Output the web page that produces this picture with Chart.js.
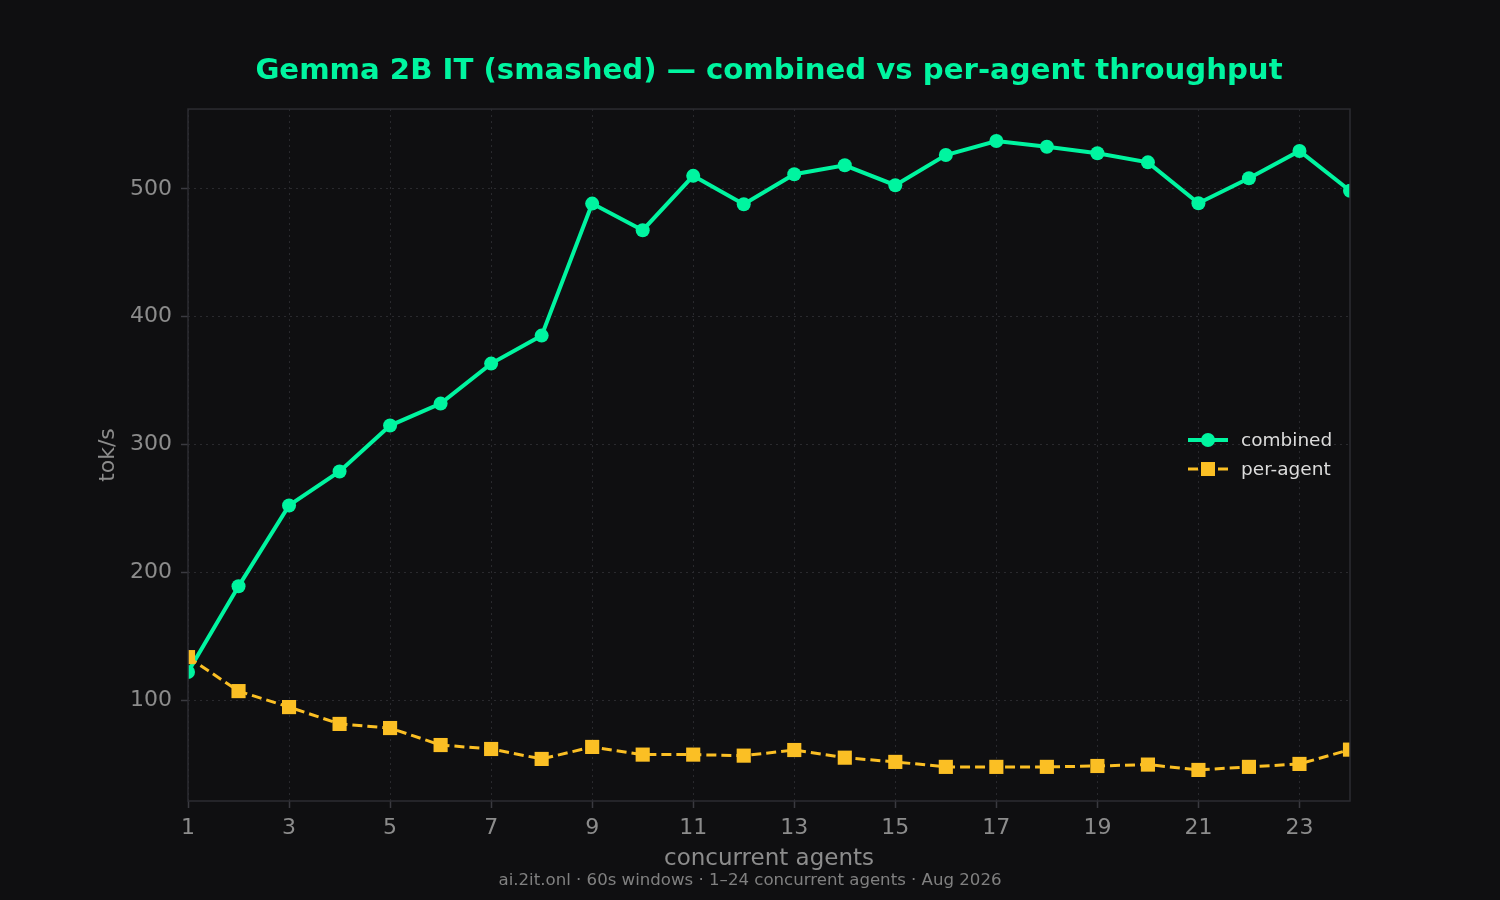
<!DOCTYPE html>
<html><head><meta charset="utf-8">
<script src="https://cdn.jsdelivr.net/npm/chart.js@4.4.1/dist/chart.umd.min.js"></script>
<style>html,body{margin:0;padding:0;background:#0f0f11;}#wrap{width:1500px;height:900px;position:relative;}</style>
</head><body><div id="wrap"><canvas id="c" width="1500" height="900"></canvas></div>
<script>
const agents = [1,2,3,4,5,6,7,8,9,10,11,12,13,14,15,16,17,18,19,20,21,22,23,24];
const combined = [121.9,189,252.3,278.9,314.8,332,363.3,385.2,488.5,467.7,510.2,488,511.5,518.5,502.9,526.5,537.5,533,527.9,520.8,488.8,508.3,529.7,498.6];
const perAgent = [133.6,107,94.5,81.3,78.1,64.8,61.7,53.9,63.3,57.3,57.3,56.5,60.9,54.9,51.6,47.7,47.7,47.7,48.4,49.5,45.3,47.7,50,61.2];
const xTicks = [1,3,5,7,9,11,13,15,17,19,21,23];
const yTicks = [100,200,300,400,500];
const seriesNames = ['combined','per-agent'];
const titleText = 'Gemma 2B IT (smashed) \u2014 combined vs per-agent throughput';
const footerText = 'ai.2it.onl \u00b7 60s windows \u00b7 1\u201324 concurrent agents \u00b7 Aug 2026';

const GREEN = '#00f5a0', AMBER = '#fbbf24', BG = '#0f0f11', FRAME = '#2c2c32';
const TXT = '#8c8c8c', FONT = "'DejaVu Sans', sans-serif";

const frameBg = {
  id: 'frameBg',
  beforeDraw(chart) {
    const ctx = chart.ctx;
    ctx.save(); ctx.fillStyle = BG; ctx.fillRect(0, 0, chart.width, chart.height); ctx.restore();
  },
  afterDatasetsDraw(chart) {
    const {ctx, chartArea: a} = chart;
    ctx.save();
    ctx.strokeStyle = FRAME; ctx.lineWidth = 1.5;
    ctx.strokeRect(a.left, a.top, a.right - a.left, a.bottom - a.top);
    ctx.restore();
  },
  afterDraw(chart) {
    const {ctx, chartArea: a} = chart;
    ctx.save();
    // legend
    const mid = (a.top + a.bottom) / 2;
    const x0 = a.right - 162, x1 = a.right - 122, xm = (x0 + x1) / 2, xt = a.right - 109;
    const y1 = mid - 15, y2 = mid + 14;
    ctx.lineCap = 'butt';
    ctx.strokeStyle = GREEN; ctx.fillStyle = GREEN; ctx.lineWidth = 4;
    ctx.beginPath(); ctx.moveTo(x0, y1); ctx.lineTo(x1, y1); ctx.stroke();
    ctx.beginPath(); ctx.arc(xm, y1, 7, 0, Math.PI * 2); ctx.fill();
    ctx.strokeStyle = AMBER; ctx.fillStyle = AMBER; ctx.lineWidth = 3;
    ctx.setLineDash([10, 5]);
    ctx.beginPath(); ctx.moveTo(x0, y2); ctx.lineTo(x1, y2); ctx.stroke();
    ctx.setLineDash([]);
    ctx.fillRect(xm - 7, y2 - 7, 14, 14);
    ctx.fillStyle = '#dcdcdc';
    ctx.font = "18.5px " + FONT; ctx.textBaseline = 'middle'; ctx.textAlign = 'left';
    ctx.fillText(seriesNames[0], xt, y1 + 1);
    ctx.fillText(seriesNames[1], xt, y2 + 1);
    // footer
    ctx.fillStyle = '#808080'; ctx.font = "16.6px " + FONT; ctx.textAlign = 'center';
    ctx.fillText(footerText, chart.width / 2, 881);
    ctx.restore();
  }
};

new Chart(document.getElementById('c'), {
  type: 'line',
  data: {
    datasets: [
      { label: seriesNames[0], data: agents.map((x, i) => ({x, y: combined[i]})), borderColor: GREEN, backgroundColor: GREEN,
        borderWidth: 4, pointRadius: 7, pointStyle: 'circle', pointBorderWidth: 0, pointBackgroundColor: GREEN,
        tension: 0, clip: 0, order: 1 },
      { label: seriesNames[1], data: agents.map((x, i) => ({x, y: perAgent[i]})), borderColor: AMBER, backgroundColor: AMBER,
        borderWidth: 3, borderDash: [10, 5], pointRadius: 10, pointStyle: 'rect', pointBorderWidth: 0, pointBackgroundColor: AMBER,
        tension: 0, clip: 0, order: 0 }
    ]
  },
  options: {
    responsive: false, animation: false, devicePixelRatio: 1,
    layout: { padding: { left: 38, right: 0, top: 21, bottom: 0 } },
    plugins: {
      legend: { display: false }, tooltip: { enabled: false },
      title: { display: true, text: titleText, color: GREEN, font: { family: FONT, size: 29.2, weight: 'bold' }, padding: { top: 33, bottom: 20 } }
    },
    scales: {
      x: {
        type: 'linear', min: 1, max: 24,
        afterBuildTicks: s => { s.ticks = xTicks.map(v => ({ value: v })); },
        afterFit: s => { s.height = 99; },
        grid: { color: '#2a2a2e', lineWidth: 1, drawTicks: true, tickLength: 7, tickColor: '#3a3a40', tickWidth: 1.5, tickBorderDash: [] },
        border: { display: false, dash: [2, 4] },
        ticks: { color: TXT, font: { family: FONT, size: 22 }, padding: 7, maxRotation: 0, autoSkip: false },
        title: { display: true, text: 'concurrent agents', color: TXT, font: { family: FONT, size: 23 }, padding: { top: 0, bottom: 27 } }
      },
      y: {
        type: 'linear', min: 21, max: 562.5, position: 'left',
        afterBuildTicks: s => { s.ticks = yTicks.map(v => ({ value: v })); },
        afterFit: s => { s.width = 150; },
        grid: { color: '#2a2a2e', lineWidth: 1, drawTicks: true, tickLength: 7, tickColor: '#3a3a40', tickWidth: 1.5, tickBorderDash: [] },
        border: { display: false, dash: [2, 4] },
        ticks: { color: TXT, font: { family: FONT, size: 22 }, padding: 9 },
        title: { display: true, text: 'tok/s', color: TXT, font: { family: FONT, size: 22 }, padding: { top: 57, bottom: 0 } }
      },
      yR: {
        type: 'linear', position: 'right', display: true,
        grid: { display: false }, border: { display: false }, ticks: { display: false },
        afterFit: s => { s.width = 150; }
      }
    }
  },
  plugins: [frameBg]
});
</script></body></html>
